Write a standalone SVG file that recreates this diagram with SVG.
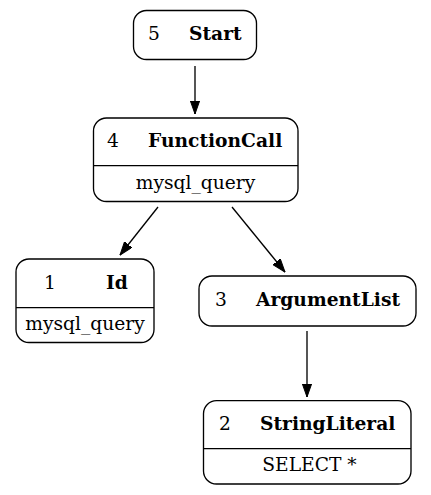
<svg xmlns="http://www.w3.org/2000/svg" width="431" height="495" viewBox="0 0 431 495">
<style>
.box{fill:#fff;stroke:#000;stroke-width:1.33}
.div{stroke:#000;stroke-width:1.33}
text{font-family:"DejaVu Serif",serif;font-size:18.67px;fill:#000}
.b{font-weight:bold}
.e{stroke:#000;stroke-width:1.33;fill:none}
</style>
<defs>
<marker id="ah" markerWidth="14" markerHeight="10" refX="13.3" refY="4.7" orient="auto" markerUnits="userSpaceOnUse"><path d="M0,0 L13.3,4.7 L0,9.4 z" fill="#000" stroke="#000" stroke-width="1"/></marker>
</defs>
<rect width="431" height="495" fill="#fff"/>
<g id="connectors">
<line class="e" x1="195" y1="66" x2="195" y2="114" marker-end="url(#ah)"/>
<line class="e" x1="158" y1="207" x2="120" y2="255" marker-end="url(#ah)"/>
<line class="e" x1="232" y1="207" x2="285" y2="272" marker-end="url(#ah)"/>
<line class="e" x1="307" y1="331" x2="307" y2="397" marker-end="url(#ah)"/>
</g>
<g id="n5">
<rect class="box" x="133.5" y="10.5" width="123" height="49" rx="13"/>
<text x="148" y="39.5">5</text>
<text class="b" x="189" y="39.5">Start</text>
</g>
<g id="n4">
<rect class="box" x="93.5" y="118" width="204.5" height="83.5" rx="13"/>
<line class="div" x1="93.5" y1="165.7" x2="298" y2="165.7"/>
<text x="107" y="147">4</text>
<text class="b" x="148" y="147">FunctionCall</text>
<text x="195.5" y="188.5" text-anchor="middle">mysql_query</text>
</g>
<g id="n1">
<rect class="box" x="16" y="259" width="138" height="83.5" rx="13"/>
<line class="div" x1="16" y1="307.7" x2="154" y2="307.7"/>
<text x="44" y="289">1</text>
<text class="b" x="106" y="289">Id</text>
<text x="85" y="330" text-anchor="middle">mysql_query</text>
</g>
<g id="n3">
<rect class="box" x="199" y="276" width="217" height="50" rx="13"/>
<text x="215" y="306">3</text>
<text class="b" x="256" y="306">ArgumentList</text>
</g>
<g id="n2">
<rect class="box" x="203.5" y="400.7" width="207.5" height="83.3" rx="13"/>
<line class="div" x1="203.5" y1="448.7" x2="411" y2="448.7"/>
<text x="219" y="430">2</text>
<text class="b" x="260" y="430">StringLiteral</text>
<text x="309.5" y="470.5" text-anchor="middle">SELECT *</text>
</g>
</svg>
